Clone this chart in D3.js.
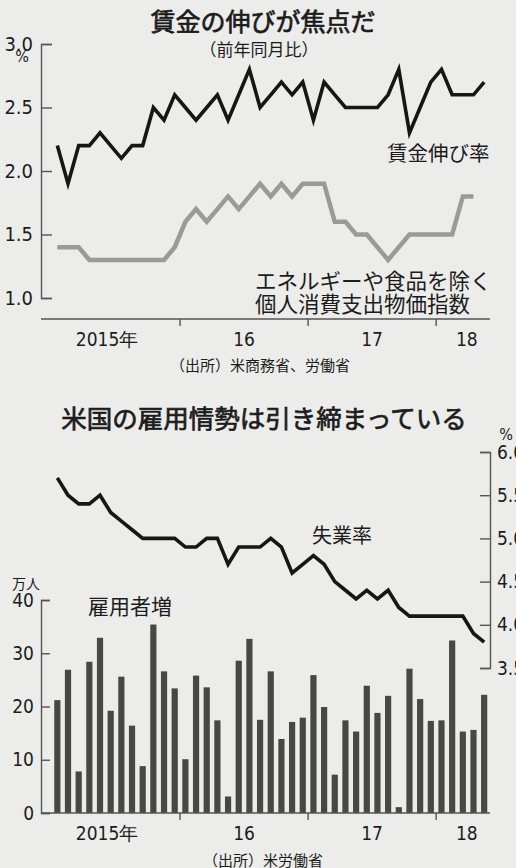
<!DOCTYPE html>
<html>
<head>
<meta charset="utf-8">
<script src="https://cdn.jsdelivr.net/npm/d3@7"></script>
<style>
body { margin: 0; background: #ececea; }
svg { display: block; }
.jp { font-family: "Noto Sans CJK JP", sans-serif; fill: #1c1c1c; }
.title { stroke: #1c1c1c; stroke-width: 0.7; }
.num { font-family: "Liberation Sans Narrow", "Arial Narrow", "DejaVu Sans Condensed", sans-serif; fill: #1c1c1c; }
.axis path, .axis line { stroke: #555; stroke-width: 1.4; }
</style>
</head>
<body>
<svg id="chart" width="516" height="868"></svg>
<script>
// months Jan 2015 .. May 2018
var months = [
  "2015-01","2015-02","2015-03","2015-04","2015-05","2015-06","2015-07","2015-08","2015-09","2015-10","2015-11","2015-12",
  "2016-01","2016-02","2016-03","2016-04","2016-05","2016-06","2016-07","2016-08","2016-09","2016-10","2016-11","2016-12",
  "2017-01","2017-02","2017-03","2017-04","2017-05","2017-06","2017-07","2017-08","2017-09","2017-10","2017-11","2017-12",
  "2018-01","2018-02","2018-03","2018-04","2018-05"
];
var yearLabels = ["2015年", "16", "17", "18"];
var yearStarts = ["2015-01", "2016-01", "2017-01", "2018-01"];

// 賃金伸び率 (%)
var wageGrowth = [2.2,1.9,2.2,2.2,2.3,2.2,2.1,2.2,2.2,2.5,2.4,2.6,
                  2.5,2.4,2.5,2.6,2.4,2.6,2.8,2.5,2.6,2.7,2.6,2.7,
                  2.4,2.7,2.6,2.5,2.5,2.5,2.5,2.6,2.8,2.3,2.5,2.7,
                  2.8,2.6,2.6,2.6,2.7];
// エネルギーや食品を除く個人消費支出物価指数 (%)
var corePce = [1.4,1.4,1.4,1.3,1.3,1.3,1.3,1.3,1.3,1.3,1.3,1.4,
               1.6,1.7,1.6,1.7,1.8,1.7,1.8,1.9,1.8,1.9,1.8,1.9,
               1.9,1.9,1.6,1.6,1.5,1.5,1.4,1.3,1.4,1.5,1.5,1.5,
               1.5,1.5,1.8,1.8];
// 雇用者増 (万人)
var payrolls = [21.2,26.9,7.8,28.4,32.9,19.2,25.6,16.4,8.8,35.4,26.6,23.4,
                10.1,25.8,23.6,17.4,3.1,28.6,32.7,17.5,26.6,13.9,17.1,17.9,
                25.9,19.9,7.2,17.4,15.3,23.9,18.8,22.0,1.1,27.1,21.4,17.3,
                17.4,32.4,15.3,15.6,22.2];
// 失業率 (%)
var unemployment = [5.7,5.5,5.4,5.4,5.5,5.3,5.2,5.1,5.0,5.0,5.0,5.0,
                    4.9,4.9,5.0,5.0,4.7,4.9,4.9,4.9,5.0,4.9,4.6,4.7,
                    4.8,4.7,4.5,4.4,4.3,4.4,4.3,4.4,4.2,4.1,4.1,4.1,
                    4.1,4.1,4.1,3.9,3.8];

var wageTicks = [1.0, 1.5, 2.0, 2.5, 3.0];
var payrollTicks = [0, 10, 20, 30, 40];
var unempTicks = [3.5, 4.0, 4.5, 5.0, 5.5, 6.0];

var svg = d3.select("#chart");
var left = 41, right = 490, plotStart = 52, plotEnd = 489.5;

var x = d3.scaleBand()
    .domain(months)
    .range([plotStart, plotEnd])
    .paddingInner(0.42)
    .paddingOuter(0.21);
var cx = function(m) { return x(m) + x.bandwidth() / 2; };
var edge = function(m) { return x(m) - x.step() * x.paddingInner() / 2; };

function timeAxis(g, baseY) {
  g.append("line")
    .attr("x1", left).attr("x2", right)
    .attr("y1", baseY).attr("y2", baseY)
    .attr("stroke", "#555").attr("stroke-width", 1.4);
  g.selectAll(".ytick")
    .data(yearStarts.slice(1))
    .enter().append("line")
    .attr("x1", edge).attr("x2", edge)
    .attr("y1", baseY).attr("y2", baseY + 7)
    .attr("stroke", "#555").attr("stroke-width", 1.4);
  g.selectAll(".ylab")
    .data(yearLabels)
    .enter().append("text")
    .attr("class", "num")
    .attr("font-size", 19)
    .attr("text-anchor", "middle")
    .attr("x", function(d, i) {
      var a = edge(yearStarts[i]);
      var b = i < yearStarts.length - 1 ? edge(yearStarts[i + 1]) : plotEnd;
      var c = (a + b) / 2;
      // center the numeral, not the trailing 年
      return i == 0 ? c - 9 : c + (i == 3 ? 4 : 0);
    })
    .attr("y", baseY + 27)
    .text(function(d) { return d; });
}

// ---------- top chart ----------
var gTop = svg.append("g");
var y1 = d3.scaleLinear().domain([1, 3]).range([298, 44]);

gTop.append("text").attr("class", "jp title")
  .attr("x", 263).attr("y", 31)
  .attr("text-anchor", "middle").attr("font-size", 25)
  .text("賃金の伸びが焦点だ");
gTop.append("text").attr("class", "jp")
  .attr("x", 259).attr("y", 56)
  .attr("text-anchor", "middle").attr("font-size", 17)
  .text("（前年同月比）");

gTop.append("g")
  .attr("class", "axis")
  .attr("transform", "translate(" + left + ",0)")
  .call(d3.axisLeft(y1).tickValues(wageTicks).tickSize(-11).tickPadding(8)
        .tickFormat(d3.format(".1f")))
  .call(function(g) {
    g.selectAll("text").attr("class", "num").attr("font-size", 20).attr("font-family", null);
  });
gTop.append("text").attr("class", "num")
  .attr("x", 22).attr("y", 62).attr("text-anchor", "middle").attr("font-size", 16)
  .text("%");

gTop.append("path")
  .datum(corePce)
  .attr("fill", "none")
  .attr("stroke", "#9a9a9a")
  .attr("stroke-width", 4.5)
  .attr("stroke-linejoin", "miter")
  .attr("d", d3.line()
    .x(function(d, i) { return cx(months[i]); })
    .y(function(d) { return y1(d); }));

gTop.append("path")
  .datum(wageGrowth)
  .attr("fill", "none")
  .attr("stroke", "#161616")
  .attr("stroke-width", 3.6)
  .attr("stroke-linejoin", "miter")
  .attr("d", d3.line()
    .x(function(d, i) { return cx(months[i]); })
    .y(function(d) { return y1(d); }));

gTop.append("text").attr("class", "jp")
  .attr("x", 387).attr("y", 161).attr("font-size", 20.5)
  .text("賃金伸び率");
gTop.append("text").attr("class", "jp")
  .attr("x", 255).attr("y", 289).attr("font-size", 21.5)
  .text("エネルギーや食品を除く");
gTop.append("text").attr("class", "jp")
  .attr("x", 255).attr("y", 312).attr("font-size", 21.5)
  .text("個人消費支出物価指数");

timeAxis(gTop, 319);

gTop.append("text").attr("class", "jp")
  .attr("x", 260).attr("y", 371)
  .attr("text-anchor", "middle").attr("font-size", 15)
  .text("（出所）米商務省、労働省");

// ---------- bottom chart ----------
var gBot = svg.append("g");
var yBar = d3.scaleLinear().domain([0, 40]).range([813, 600]);
var yU = d3.scaleLinear().domain([3.5, 6.0]).range([668, 452]);

gBot.append("text").attr("class", "jp title")
  .attr("x", 264).attr("y", 428)
  .attr("text-anchor", "middle").attr("font-size", 25.5)
  .text("米国の雇用情勢は引き締まっている");

gBot.selectAll(".bar")
  .data(payrolls)
  .enter().append("rect")
  .attr("class", "bar")
  .attr("x", function(d, i) { return x(months[i]); })
  .attr("width", x.bandwidth())
  .attr("y", function(d) { return yBar(d); })
  .attr("height", function(d) { return yBar(0) - yBar(d); })
  .attr("fill", "#474747");

gBot.append("g")
  .attr("class", "axis")
  .attr("transform", "translate(" + left + ",0)")
  .call(d3.axisLeft(yBar).tickValues(payrollTicks).tickSize(-9).tickPadding(7))
  .call(function(g) {
    g.selectAll("text").attr("class", "num").attr("font-size", 19).attr("font-family", null);
  });
gBot.append("text").attr("class", "jp")
  .attr("x", 26).attr("y", 589).attr("text-anchor", "middle").attr("font-size", 14)
  .text("万人");

gBot.append("g")
  .attr("class", "axis")
  .attr("transform", "translate(" + right + ",0)")
  .call(d3.axisRight(yU).tickValues(unempTicks).tickSize(-10).tickPadding(7)
        .tickFormat(d3.format(".1f")))
  .call(function(g) {
    g.selectAll("text").attr("class", "num").attr("font-size", 19).attr("font-family", null);
  });
gBot.append("text").attr("class", "num")
  .attr("x", 506).attr("y", 440).attr("text-anchor", "middle").attr("font-size", 16)
  .text("%");

gBot.append("path")
  .datum(unemployment)
  .attr("fill", "none")
  .attr("stroke", "#161616")
  .attr("stroke-width", 3.6)
  .attr("stroke-linejoin", "miter")
  .attr("d", d3.line()
    .x(function(d, i) { return cx(months[i]); })
    .y(function(d) { return yU(d); }));

gBot.append("text").attr("class", "jp")
  .attr("x", 312).attr("y", 543).attr("font-size", 20)
  .text("失業率");
gBot.append("text").attr("class", "jp")
  .attr("x", 88).attr("y", 614).attr("font-size", 21)
  .text("雇用者増");

timeAxis(gBot, 813);

gBot.append("text").attr("class", "jp")
  .attr("x", 263).attr("y", 866)
  .attr("text-anchor", "middle").attr("font-size", 15)
  .text("（出所）米労働省");
</script>
</body>
</html>
